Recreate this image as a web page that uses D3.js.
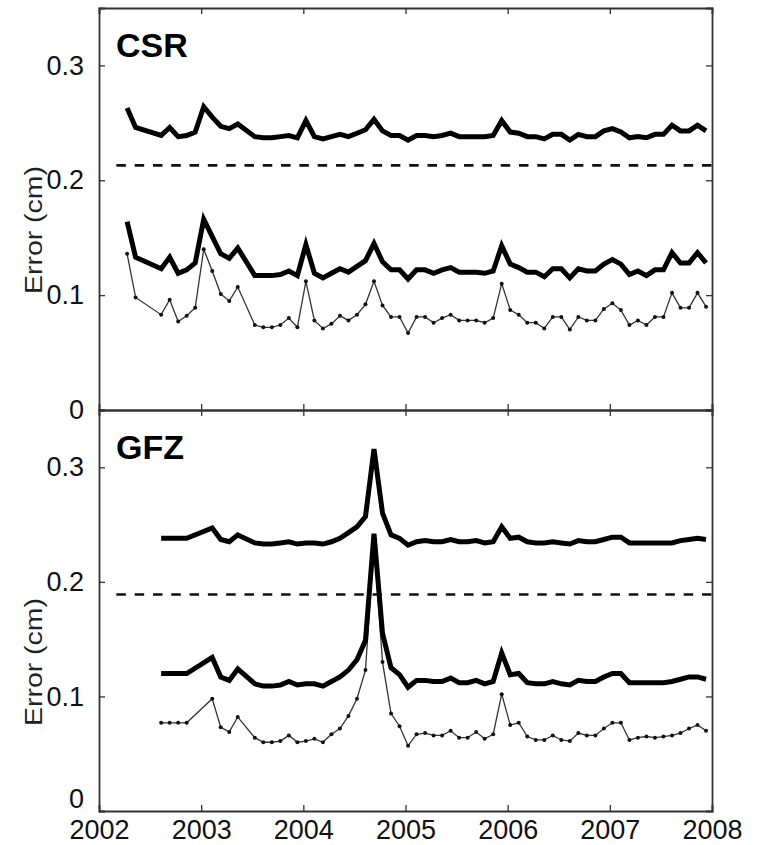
<!DOCTYPE html>
<html><head><meta charset="utf-8">
<script src="https://cdn.jsdelivr.net/npm/d3@7"></script>
<style>body{margin:0;background:#fff;} svg{display:block;}</style>
</head><body>
<script>
// ---------- DATA ----------
const yearTicks = [2002, 2003, 2004, 2005, 2006, 2007, 2008];
const valueTicks = [0, 0.1, 0.2, 0.3];

const csrMonths = ["2002-04","2002-05","2002-08","2002-09","2002-10","2002-11","2002-12",
 "2003-01","2003-02","2003-03","2003-04","2003-05","2003-07","2003-08","2003-09","2003-10","2003-11","2003-12",
 "2004-01","2004-02","2004-03","2004-04","2004-05","2004-06","2004-07","2004-08","2004-09","2004-10","2004-11","2004-12",
 "2005-01","2005-02","2005-03","2005-04","2005-05","2005-06","2005-07","2005-08","2005-09","2005-10","2005-11","2005-12",
 "2006-01","2006-02","2006-03","2006-04","2006-05","2006-06","2006-07","2006-08","2006-09","2006-10","2006-11","2006-12",
 "2007-01","2007-02","2007-03","2007-04","2007-05","2007-06","2007-07","2007-08","2007-09","2007-10","2007-11","2007-12"];

const csrUpper = [0.263,0.246,0.239,0.246,0.238,0.239,0.242,0.264,0.255,0.247,0.245,0.249,0.238,0.237,0.237,0.238,0.239,0.237,
 0.252,0.238,0.236,0.238,0.240,0.238,0.241,0.244,0.253,0.243,0.239,0.239,
 0.235,0.239,0.239,0.238,0.239,0.241,0.238,0.238,0.238,0.238,0.239,0.252,
 0.242,0.241,0.238,0.238,0.236,0.240,0.240,0.235,0.240,0.238,0.238,0.243,
 0.245,0.242,0.237,0.238,0.237,0.240,0.240,0.248,0.243,0.243,0.248,0.243];

const csrMiddle = [0.164,0.133,0.123,0.133,0.119,0.122,0.128,0.166,0.151,0.136,0.132,0.141,0.117,0.117,0.117,0.118,0.121,0.117,
 0.144,0.119,0.115,0.119,0.123,0.120,0.125,0.130,0.145,0.129,0.122,0.122,
 0.114,0.122,0.122,0.119,0.122,0.124,0.120,0.120,0.120,0.119,0.121,0.143,
 0.127,0.124,0.120,0.120,0.116,0.123,0.123,0.115,0.123,0.121,0.121,0.127,
 0.131,0.127,0.118,0.121,0.117,0.122,0.122,0.137,0.128,0.128,0.137,0.128];

const csrLower = [0.136,0.098,0.083,0.096,0.077,0.082,0.089,0.140,0.121,0.101,0.095,0.107,0.074,0.072,0.072,0.074,0.080,0.072,
 0.112,0.078,0.071,0.075,0.082,0.078,0.083,0.092,0.112,0.091,0.081,0.081,
 0.067,0.081,0.081,0.076,0.080,0.083,0.078,0.078,0.078,0.076,0.080,0.110,
 0.087,0.083,0.076,0.076,0.071,0.081,0.081,0.070,0.081,0.078,0.078,0.088,
 0.093,0.087,0.074,0.078,0.074,0.081,0.081,0.102,0.089,0.089,0.102,0.090];

const gfzMonths = ["2002-08","2002-09","2002-10","2002-11",
 "2003-02","2003-03","2003-04","2003-05","2003-07","2003-08","2003-09","2003-10","2003-11","2003-12",
 "2004-01","2004-02","2004-03","2004-04","2004-05","2004-06","2004-07","2004-08","2004-09","2004-10","2004-11","2004-12",
 "2005-01","2005-02","2005-03","2005-04","2005-05","2005-06","2005-07","2005-08","2005-09","2005-10","2005-11","2005-12",
 "2006-01","2006-02","2006-03","2006-04","2006-05","2006-06","2006-07","2006-08","2006-09","2006-10","2006-11","2006-12",
 "2007-01","2007-02","2007-03","2007-04","2007-05","2007-06","2007-07","2007-08","2007-09","2007-10","2007-11","2007-12"];

const gfzUpper = [0.238,0.238,0.238,0.238,0.247,0.237,0.235,0.241,0.234,0.233,0.233,0.234,0.235,0.233,
 0.234,0.234,0.233,0.235,0.238,0.243,0.248,0.257,0.316,0.260,0.241,0.238,
 0.232,0.235,0.236,0.235,0.235,0.237,0.235,0.235,0.236,0.234,0.235,0.248,
 0.238,0.239,0.235,0.234,0.234,0.235,0.234,0.233,0.236,0.235,0.235,0.237,
 0.239,0.239,0.234,0.234,0.234,0.234,0.234,0.234,0.236,0.237,0.238,0.237];

const gfzMiddle = [0.120,0.120,0.120,0.120,0.134,0.117,0.114,0.124,0.111,0.109,0.109,0.110,0.113,0.110,
 0.111,0.111,0.109,0.113,0.117,0.123,0.132,0.149,0.242,0.155,0.125,0.119,
 0.108,0.114,0.114,0.113,0.113,0.116,0.112,0.112,0.114,0.111,0.113,0.138,
 0.119,0.120,0.112,0.111,0.111,0.113,0.111,0.110,0.114,0.113,0.113,0.117,
 0.120,0.120,0.112,0.112,0.112,0.112,0.112,0.113,0.115,0.117,0.117,0.115];

const gfzLower = [0.077,0.077,0.077,0.077,0.098,0.073,0.069,0.082,0.064,0.060,0.060,0.061,0.066,0.060,
 0.061,0.063,0.060,0.067,0.072,0.083,0.098,0.123,0.235,0.130,0.085,0.074,
 0.057,0.067,0.068,0.066,0.066,0.070,0.064,0.064,0.069,0.063,0.067,0.102,
 0.075,0.077,0.065,0.062,0.062,0.066,0.062,0.061,0.068,0.066,0.066,0.072,
 0.077,0.077,0.062,0.064,0.065,0.064,0.065,0.066,0.068,0.072,0.075,0.070];

const csrThreshold = 0.213;
const gfzThreshold = 0.189;
const dashStart = 2002.17;

// ---------- LAYOUT ----------
const W = 757, H = 845;
const left = 99, right = 712;
const panels = [
  {name: "CSR", top: 8, bottom: 410, months: csrMonths, upper: csrUpper, middle: csrMiddle, lower: csrLower, thr: csrThreshold, labelY: 230, xLabels: false},
  {name: "GFZ", top: 410, bottom: 811, months: gfzMonths, upper: gfzUpper, middle: gfzMiddle, lower: gfzLower, thr: gfzThreshold, labelY: 662, xLabels: true}
];

const svg = d3.select("body").append("svg").attr("width", W).attr("height", H);
const font = "Helvetica, Arial, 'Liberation Sans', sans-serif";
const x = d3.scaleLinear().domain([2002, 2008]).range([left, right]);
const toYear = m => { const [yy, mm] = m.split("-").map(Number); return yy + (mm - 1 + 0.3) / 12; };

panels.forEach((p, pi) => {
  const y = d3.scaleLinear().domain([0, 0.35]).range([p.bottom, p.top]);
  const g = svg.append("g");

  const axB = d3.axisBottom(x).tickValues(yearTicks).tickSize(-6).tickFormat(p.xLabels ? d3.format("d") : "");
  const axT = d3.axisTop(x).tickValues(yearTicks).tickSize(-6).tickFormat("");
  const axL = d3.axisLeft(y).tickValues(valueTicks).tickSize(-6).tickFormat(d => d === 0 ? "0" : d3.format(".1f")(d));
  const axR = d3.axisRight(y).tickValues(valueTicks).tickSize(-6).tickFormat("");

  const gb = g.append("g").attr("transform", `translate(0,${p.bottom})`).call(axB);
  const gt = g.append("g").attr("transform", `translate(0,${p.top})`).call(axT);
  const gl = g.append("g").attr("transform", `translate(${left},0)`).call(axL);
  const gr = g.append("g").attr("transform", `translate(${right},0)`).call(axR);
  [gb, gt, gl, gr].forEach(a => {
    a.select(".domain").attr("stroke", "#333").attr("stroke-width", 1.8);
    a.selectAll(".tick line").attr("stroke", "#333").attr("stroke-width", 1.3);
    a.selectAll("text").attr("font-family", font).attr("font-size", 27).attr("fill", "#111");
  });
  gl.selectAll(".tick text").attr("x", -15);
  if (pi === 1) {
    gl.selectAll(".tick").filter(d => d === 0).select("text").attr("dy", "-0.12em");
    gb.selectAll(".tick text").attr("y", 9);
  }

  g.append("line")
    .attr("x1", x(dashStart)).attr("x2", x(2008))
    .attr("y1", y(p.thr)).attr("y2", y(p.thr))
    .attr("stroke", "#111").attr("stroke-width", 2.6).attr("stroke-dasharray", "9.5,8.8");

  const pts = arr => arr.map((v, i) => [toYear(p.months[i]), v]);
  const line = d3.line().x(d => x(d[0])).y(d => y(d[1]));

  g.append("path").attr("d", line(pts(p.lower)))
    .attr("fill", "none").attr("stroke", "#333").attr("stroke-width", 1.3);
  g.selectAll("circle.m").data(pts(p.lower)).enter().append("circle")
    .attr("cx", d => x(d[0])).attr("cy", d => y(d[1])).attr("r", 2)
    .attr("fill", "#111");

  [p.middle, p.upper].forEach(arr => {
    g.append("path").attr("d", line(pts(arr)))
      .attr("fill", "none").attr("stroke", "#000").attr("stroke-width", 5)
      .attr("stroke-linejoin", "miter").attr("stroke-miterlimit", 6);
  });

  g.append("text").attr("x", 116).attr("y", p.top + 49)
    .attr("font-family", font).attr("font-weight", "bold").attr("font-size", 34)
    .attr("fill", "#000").text(p.name);

  g.append("text")
    .attr("transform", `translate(42,${p.labelY}) rotate(-90)`)
    .attr("text-anchor", "middle").attr("font-family", font).attr("font-size", 23)
    .attr("textLength", 128).attr("lengthAdjust", "spacingAndGlyphs")
    .attr("fill", "#222").text("Error (cm)");
});
</script>
</body></html>
